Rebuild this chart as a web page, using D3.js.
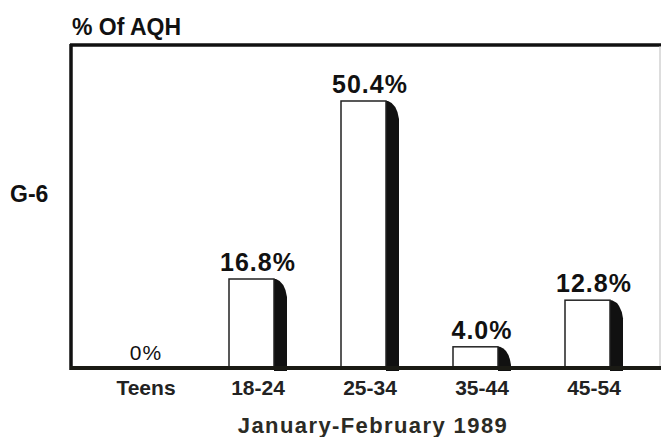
<!DOCTYPE html>
<html>
<head>
<meta charset="utf-8">
<script src="https://cdn.jsdelivr.net/npm/d3@7"></script>
<style>
  body { margin: 0; background: #fff; }
  text { font-family: "Liberation Sans", Arial, sans-serif; }
</style>
</head>
<body>
<div id="chart"></div>
<script>
// chart data
const groups = ["Teens", "18-24", "25-34", "35-44", "45-54"];
const shares = [0, 16.8, 50.4, 4.0, 12.8];
const shareLabels = ["0%", "16.8%", "50.4%", "4.0%", "12.8%"];

const W = 661, H = 437;
const base = 368;

const svg = d3.select("#chart")
  .append("svg")
    .attr("width", W)
    .attr("height", H);

// scales
let x = d3.scalePoint()
  .domain(groups)
  .range([146, 594]);

let y = d3.scaleLinear()
  .domain([0, 50.4])
  .range([base, 101]);

const barW = 45, shadowW = 13;

// frame: top and left rules, faint right edge
svg.append("line")
  .attr("x1", 70).attr("x2", W)
  .attr("y1", 45).attr("y2", 45)
  .style("stroke", "#111").style("stroke-width", 3.5);
svg.append("line")
  .attr("x1", 71).attr("x2", 71)
  .attr("y1", 44).attr("y2", base + 2)
  .style("stroke", "#111").style("stroke-width", 3.5);
svg.append("line")
  .attr("x1", 660).attr("x2", 660)
  .attr("y1", 46).attr("y2", base)
  .style("stroke", "#bbb").style("stroke-width", 1);

// bars (zero bar is not drawn)
const data = groups.map((g, i) => ({g: g, v: shares[i], label: shareLabels[i]}));
const bars = data.filter(d => d.v > 0);

// dark shadow on the right of each bar, slanted at the top
svg.append("g")
  .selectAll("path")
  .data(bars)
  .enter()
  .append("path")
    .attr("d", d => {
      let xr = x(d.g) - 29 + barW;
      let t = y(d.v);
      let drop = Math.min(18, base - t);
      return "M" + xr + "," + t +
        " L" + (xr + 2) + "," + t +
        " Q" + (xr + shadowW - 2) + "," + (t + 3) + " " + (xr + shadowW) + "," + (t + drop) +
        " L" + (xr + shadowW) + "," + (base + 3) +
        " L" + xr + "," + (base + 3) + " Z";
    })
    .style("fill", "#111");

svg.append("g")
  .selectAll("rect")
  .data(bars)
  .enter()
  .append("rect")
    .attr("x", d => x(d.g) - 29)
    .attr("y", d => y(d.v))
    .attr("width", barW)
    .attr("height", d => base - y(d.v))
    .style("fill", "#fff")
    .style("stroke", "#222")
    .style("stroke-width", 1.5);

// baseline
svg.append("line")
  .attr("x1", 70).attr("x2", W)
  .attr("y1", base).attr("y2", base)
  .style("stroke", "#1a1a14").style("stroke-width", 4);

// value labels
svg.append("g")
  .selectAll("text")
  .data(data)
  .enter()
  .append("text")
    .attr("x", d => x(d.g))
    .attr("y", d => d.v > 0 ? y(d.v) - 8 : 360)
    .attr("text-anchor", "middle")
    .style("font-size", d => d.v > 0 ? "25px" : "21px")
    .style("font-weight", d => d.v > 0 ? "bold" : "normal")
    .style("letter-spacing", "1px")
    .style("fill", "#111")
    .text(d => d.label);

// category labels
svg.append("g")
  .selectAll("text")
  .data(groups)
  .enter()
  .append("text")
    .attr("x", d => x(d))
    .attr("y", 395)
    .attr("text-anchor", "middle")
    .style("font-size", "21px")
    .style("font-weight", "bold")
    .style("fill", "#222")
    .text(d => d);

// titles
svg.append("text")
  .attr("x", 72).attr("y", 35)
  .style("font-size", "23px")
  .style("font-weight", "bold")
  .style("fill", "#111")
  .text("% Of AQH");

svg.append("text")
  .attr("x", 10).attr("y", 202)
  .style("font-size", "23px")
  .style("font-weight", "bold")
  .style("fill", "#111")
  .text("G-6");

svg.append("text")
  .attr("x", 373).attr("y", 433)
  .attr("text-anchor", "middle")
  .style("font-size", "22px")
  .style("font-weight", "bold")
  .style("letter-spacing", "1.4px")
  .style("fill", "#2b2b25")
  .text("January-February 1989");
</script>
</body>
</html>
